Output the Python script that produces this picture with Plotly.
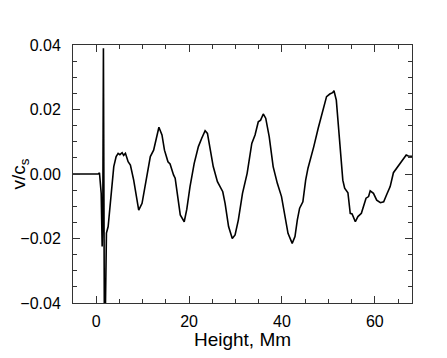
import plotly.graph_objects as go

# Datos
height = [-5.0, -2.0, 0.0, 0.43, 0.7, 1.07, 1.28, 1.42, 1.55, 1.75, 1.95, 2.2, 2.57, 2.85, 3.28,
          3.78, 4.29, 4.72, 5.1, 5.58, 5.9, 6.29, 6.87, 7.36, 8.07, 8.58, 9.15, 9.87, 10.2, 10.9,
          11.65, 12.36, 12.94, 13.5, 14.16, 14.7, 15.45, 15.9, 16.65, 17.0, 18.1, 18.95, 19.5,
          20.2, 21.1, 22.0, 22.7, 23.45, 23.95, 24.5, 25.2, 26.1, 27.25, 27.75, 28.5, 29.3, 29.9,
          30.6, 31.5, 32.5, 33.5, 34.2, 34.9, 35.4, 35.97, 36.5, 37.25, 38.1, 39.0, 39.9, 40.6,
          41.3, 42.2, 42.8, 43.3, 43.8, 44.5, 45.1, 45.6, 46.1, 46.85, 47.8, 48.7, 49.6, 50.3,
          50.9, 51.2, 51.7, 52.4, 53.1, 53.5, 54.2, 54.7, 55.1, 55.8, 56.35, 57.1, 57.6, 58.1,
          58.65, 59.0, 59.7, 60.4, 61.2, 61.9, 62.6, 63.3, 64.0, 64.7, 65.45, 66.0, 66.75, 67.2,
          67.6, 68.0]
velocity = [0.0, 0.0, 0.0, 0.0, 0.0004, -0.006, -0.0225, -0.012, 0.039, -0.045, -0.045, -0.0183,
            -0.0163, -0.0121, -0.0039, 0.0023, 0.0054, 0.0064, 0.006, 0.0066, 0.0058, 0.0064,
            0.0038, 0.0028, -0.0019, -0.006, -0.0112, -0.0091, -0.0066, -0.0008, 0.0054, 0.0074,
            0.011, 0.0145, 0.0121, 0.0074, 0.0038, 0.0031, -0.0003, -0.0013, -0.0127, -0.0148,
            -0.011, -0.0039, 0.0033, 0.0085, 0.011, 0.0134, 0.0126, 0.0085, 0.0023, -0.0024,
            -0.0055, -0.0091, -0.0163, -0.02, -0.0189, -0.0143, -0.006, 0.0002, 0.0095, 0.0121,
            0.0162, 0.0167, 0.0186, 0.0173, 0.0116, 0.0023, -0.0029, -0.007, -0.0122, -0.0184,
            -0.0215, -0.0194, -0.0143, -0.0106, -0.0086, -0.0019, 0.0018, 0.0043, 0.0085, 0.0142,
            0.0193, 0.024, 0.0248, 0.0252, 0.0258, 0.0229, 0.0105, -0.0019, -0.0044, -0.0058,
            -0.0122, -0.0124, -0.0148, -0.0132, -0.0122, -0.0101, -0.0075, -0.007, -0.0052,
            -0.006, -0.0081, -0.0089, -0.0086, -0.0062, -0.0039, 0.0004, 0.0018, 0.0033, 0.0043,
            0.0059, 0.0056, 0.0055, 0.0055]

fuente = dict(family="Liberation Sans, Arial, sans-serif", size=16, color="black")

data = [go.Scatter(x=height, y=velocity, mode="lines",
                   line=dict(color="black", width=1.6), showlegend=False)]

# la página tiene 8 px de margen en el body: la figura se reduce para caber en la ventana
layout = go.Layout(
    width=431, height=342,
    margin=dict(l=65, r=27, t=37, b=47),
    paper_bgcolor="white", plot_bgcolor="white",
    font=fuente,
    xaxis=dict(title=dict(text="Height, Mm", standoff=8),
               range=[-5, 68], tickvals=[0, 20, 40, 60],
               ticks="inside", ticklen=7, tickcolor="#333",
               minor=dict(dtick=5, tick0=0, ticks="inside", ticklen=4, tickcolor="#333"),
               showline=True, linecolor="#333", linewidth=1, mirror="allticks",
               showgrid=False, zeroline=False, ticklabelstandoff=4, automargin=False),
    yaxis=dict(title=dict(text="v/c<sub>s</sub>", standoff=6),
               range=[-0.04, 0.04], tickvals=[-0.04, -0.02, 0.0, 0.02, 0.04],
               ticktext=["\u22120.04", "\u22120.02", "0.00", "0.02", "0.04"],
               ticks="inside", ticklen=7, tickcolor="#333",
               minor=dict(dtick=0.005, tick0=0, ticks="inside", ticklen=4, tickcolor="#333"),
               showline=True, linecolor="#333", linewidth=1, mirror="allticks",
               showgrid=False, zeroline=False, ticklabelstandoff=8, automargin=False),
)

fig = go.Figure(data=data, layout=layout)
fig.write_html("out.html")
